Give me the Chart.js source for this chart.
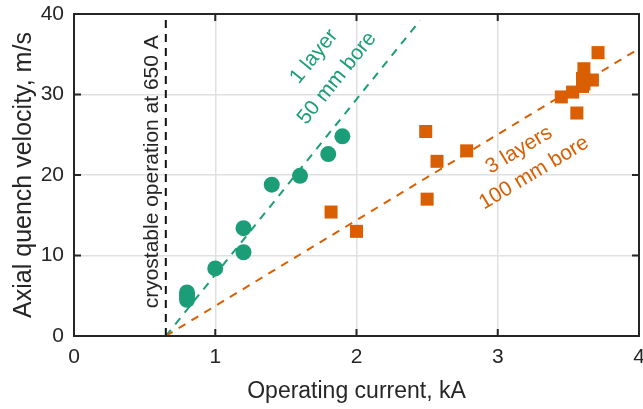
<!DOCTYPE html>
<html>
<head>
<meta charset="utf-8">
<script src="https://cdn.jsdelivr.net/npm/chart.js@4.4.0/dist/chart.umd.min.js"></script>
<style>
  html, body { margin: 0; padding: 0; background: #fff; }
  #wrap { width: 643px; height: 409px; }
</style>
</head>
<body>
<div id="wrap"><canvas id="myChart" width="643" height="409"></canvas></div>
<script>
var chart

// 1 layer, 50 mm bore coil (kA, m/s)
var oneLayerCurrent = [0.8, 0.8, 0.8, 1.0, 1.2, 1.2, 1.4, 1.6, 1.8, 1.9]
var oneLayerVelocity = [4.5, 5.0, 5.4, 8.4, 10.4, 13.4, 18.8, 19.9, 22.6, 24.8]

// 3 layers, 100 mm bore coil
var threeLayerCurrent = [1.82, 2.0, 2.5, 2.49, 2.57, 2.78, 3.45, 3.53, 3.56, 3.6, 3.61, 3.6, 3.67, 3.61, 3.71]
var threeLayerVelocity = [15.4, 13.0, 17.0, 25.4, 21.7, 23.0, 29.7, 30.3, 27.7, 31.0, 31.3, 32.0, 31.8, 33.2, 35.2]

// linear fits, both starting at the cryostable current
var fitOneX = [0.65, 2.45]
var fitOneY = [0, 39.2]
var fitThreeX = [0.65, 4.0]
var fitThreeY = [0, 35.7]

// cryostable limit, 650 A
var cryoX = [0.65, 0.65]
var cryoY = [0, 39.3]

var xTicks = [0, 1, 2, 3, 4]
var yTicks = [0, 10, 20, 30, 40]

var green = '#1b9e77'
var orange = '#d95f02'
var ink = '#262626'
var fontName = '"Liberation Sans", Arial, Helvetica, sans-serif'

function pairs(xs, ys) {
    var out = []
    for (var i = 0; i < xs.length; i++) {
        out.push({ x: xs[i], y: ys[i] })
    }
    return out
}

// text placed in data coordinates, rotation in degrees
var notes = [
    { text: 'cryostable operation at 650 A', x: 0.552, y: 20.4, rot: -90, color: ink },
    { text: '1 layer', x: 1.699, y: 34.7, rot: -51, color: green },
    { text: '50 mm bore', x: 1.862, y: 32.0, rot: -51, color: green },
    { text: '3 layers', x: 3.15, y: 23.1, rot: -31, color: orange },
    { text: '100 mm bore', x: 3.257, y: 20.25, rot: -31, color: orange }
]

var frame = {
    id: 'frame',
    afterDatasetsDraw: function (chart) {
        var ctx = chart.ctx
        var a = chart.chartArea
        var xs = chart.scales.x
        var ys = chart.scales.y
        ctx.save()

        ctx.font = '21px ' + fontName
        ctx.textAlign = 'center'
        ctx.textBaseline = 'middle'
        notes.forEach(function (n) {
            ctx.save()
            ctx.translate(xs.getPixelForValue(n.x), ys.getPixelForValue(n.y))
            ctx.rotate(n.rot * Math.PI / 180)
            ctx.fillStyle = n.color
            ctx.fillText(n.text, 0, 0)
            ctx.restore()
        })

        // box and inward ticks
        ctx.strokeStyle = ink
        ctx.lineWidth = 2
        ctx.strokeRect(a.left, a.top, a.right - a.left, a.bottom - a.top)
        var len = 7
        ctx.beginPath()
        xTicks.forEach(function (t) {
            var px = xs.getPixelForValue(t)
            ctx.moveTo(px, a.bottom); ctx.lineTo(px, a.bottom - len)
            ctx.moveTo(px, a.top); ctx.lineTo(px, a.top + len)
        })
        yTicks.forEach(function (t) {
            var py = ys.getPixelForValue(t)
            ctx.moveTo(a.left, py); ctx.lineTo(a.left + len, py)
            ctx.moveTo(a.right, py); ctx.lineTo(a.right - len, py)
        })
        ctx.stroke()
        ctx.restore()
    }
}

function buildGraph() {
    var ctx = document.getElementById('myChart').getContext('2d')
    chart = new Chart(ctx, {
        type: 'scatter',
        data: {
            datasets: [
                {
                    label: 'cryostable',
                    type: 'line',
                    data: pairs(cryoX, cryoY),
                    borderColor: '#111',
                    borderWidth: 2,
                    borderDash: [8, 6],
                    pointRadius: 0,
                    fill: false
                },
                {
                    label: 'fit 3 layers',
                    type: 'line',
                    data: pairs(fitThreeX, fitThreeY),
                    borderColor: orange,
                    borderWidth: 2,
                    borderDash: [8, 7],
                    pointRadius: 0,
                    fill: false
                },
                {
                    label: 'fit 1 layer',
                    type: 'line',
                    data: pairs(fitOneX, fitOneY),
                    borderColor: green,
                    borderWidth: 2,
                    borderDash: [8, 7],
                    pointRadius: 0,
                    fill: false
                },
                {
                    label: '1 layer, 50 mm bore',
                    data: pairs(oneLayerCurrent, oneLayerVelocity),
                    pointStyle: 'circle',
                    pointRadius: 8,
                    backgroundColor: green,
                    borderWidth: 0
                },
                {
                    label: '3 layers, 100 mm bore',
                    data: pairs(threeLayerCurrent, threeLayerVelocity),
                    pointStyle: 'rect',
                    pointRadius: 9.2,
                    backgroundColor: orange,
                    borderWidth: 0
                }
            ]
        },
        plugins: [frame],
        options: {
            responsive: false,
            animation: false,
            layout: {
                autoPadding: false,
                padding: { left: 0, right: 4, top: 14, bottom: 0 }
            },
            plugins: {
                legend: { display: false },
                tooltip: { enabled: false }
            },
            scales: {
                x: {
                    type: 'linear',
                    min: 0,
                    max: 4,
                    afterFit: function (s) {
                        s.height = 73
                        s.paddingLeft = 0
                        s.paddingRight = 0
                    },
                    ticks: {
                        stepSize: 1,
                        color: ink,
                        padding: 9,
                        font: { family: fontName, size: 21 }
                    },
                    grid: { color: '#e0e0e0', lineWidth: 1.5, drawTicks: false },
                    border: { display: false },
                    title: {
                        display: true,
                        text: 'Operating current, kA',
                        color: ink,
                        font: { family: fontName, size: 23 },
                        padding: { top: 5, bottom: 4 }
                    }
                },
                y: {
                    type: 'linear',
                    min: 0,
                    max: 40,
                    afterFit: function (s) {
                        s.width = 74
                        s.paddingTop = 0
                        s.paddingBottom = 0
                    },
                    ticks: {
                        stepSize: 10,
                        color: ink,
                        padding: 10,
                        font: { family: fontName, size: 21 }
                    },
                    grid: { color: '#e0e0e0', lineWidth: 1.5, drawTicks: false },
                    border: { display: false },
                    title: {
                        display: true,
                        text: 'Axial quench velocity, m/s',
                        color: ink,
                        font: { family: fontName, size: 25 },
                        padding: { top: 9, bottom: 4 }
                    }
                }
            }
        }
    })
}

buildGraph()
</script>
</body>
</html>
